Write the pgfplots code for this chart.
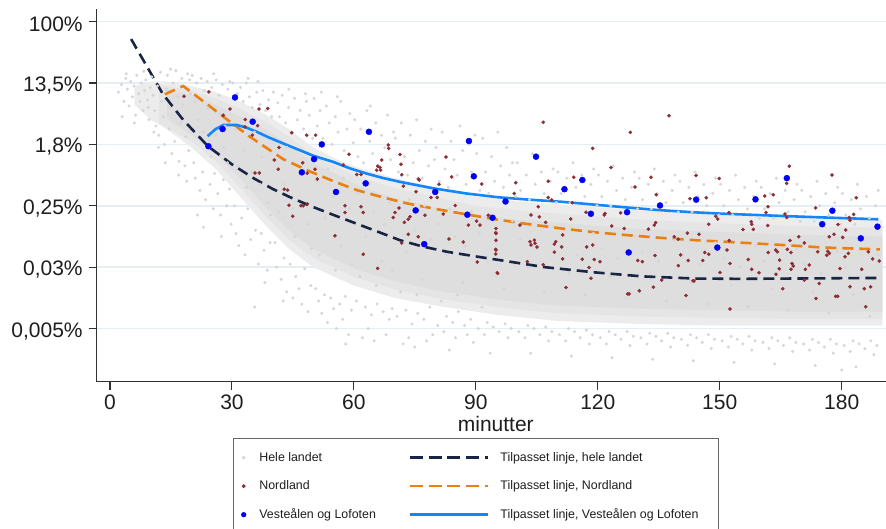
\documentclass[border=0pt]{standalone}
\usepackage{pgfplots}
\pgfplotsset{compat=1.18}
\usepackage{fontspec}
\setmainfont{Liberation Sans}
\definecolor{greydot}{RGB}{214,214,214}
\definecolor{corefill}{RGB}{236,236,236}
\definecolor{midfill}{RGB}{229,229,229}
\definecolor{innerfill}{RGB}{222,222,222}
\definecolor{nordred}{RGB}{140,45,55}
\definecolor{vblue}{RGB}{0,0,245}
\definecolor{navyline}{RGB}{26,36,68}
\definecolor{orangeline}{RGB}{234,128,16}
\definecolor{blueline}{RGB}{18,134,250}
\definecolor{gridc}{RGB}{229,238,242}
\definecolor{axisc}{RGB}{50,50,50}
\definecolor{tickc}{RGB}{30,30,30}
\pgfplotsset{
  markleg/.style={legend image code/.code={\path[draw=none,fill=none] (-5.25pt,-14.25pt) rectangle (15.7pt,14.25pt); \draw[##1] plot coordinates {(0pt,0pt)};}},
  lineleg/.style={legend image code/.code={\path[draw=none,fill=none] (-34.1pt,-14.25pt) rectangle (90.4pt,14.25pt); \draw[##1] (0pt,0pt) -- (78pt,0pt);}},
}
\begin{document}
\begin{tikzpicture}
\begin{axis}[
  at={(96.7pt,147.3pt)}, anchor=south west,
  scale only axis, width=789.3pt, height=372.7pt,
  xmin=-3.27, xmax=190.9, ymin=-11.73, ymax=0.41,
  axis x line*=bottom, axis y line*=left,
  axis line style={draw=axisc, line width=1.1pt},
  major tick style={draw=axisc, line width=1.1pt},
  tick align=outside, major tick length=8pt,
  xtick={0,30,60,90,120,150,180},
  ytick={-10,-8,-6,-4,-2,0},
  yticklabels={{0,005\%},{0,03\%},{0,25\%},{1,8\%},{13,5\%},{100\%}},
  /pgf/number format/assume math mode=true,
  xticklabel style={font=\fontsize{21}{21}\selectfont, text=tickc, yshift=-2pt},
  yticklabel style={font=\fontsize{21}{21}\selectfont, text=tickc, yshift=-2.5pt, xshift=-2.5pt},
  ymajorgrids, major grid style={line width=1.6pt, draw=gridc},
  xlabel={minutter},
  xlabel style={at={(axis description cs:0.5056,-0.1342)}, anchor=base, inner sep=0pt, font=\fontsize{21}{21}\selectfont, text=tickc},
  legend columns=2, legend cell align=left,
  legend style={at={(axis description cs:0.17307,-0.15187)}, anchor=north west,
    draw={rgb,255:red,100;green,100;blue,100}, line width=0.8pt, inner xsep=4.75pt, inner ysep=4.75pt,
    nodes={inner sep=0pt, font=\fontsize{12.4}{14}\selectfont, text=tickc},
    /tikz/column sep=0pt, /tikz/row sep=0pt},
]
% spread of the national cloud (outer, middle and dense core)
\addplot[fill=corefill, draw=none, forget plot] coordinates {
(6,-2.1)(10,-1.95)(14,-1.95)(20,-2.1)(26,-2.3)(32,-2.6)(38,-3.0)(44,-3.5)(50,-4.1)(56,-4.5)(62,-4.8)(70,-5.1)(80,-5.4)(90,-5.7)(100,-5.85)(115,-6.0)(130,-6.15)(150,-6.3)(170,-6.4)(190,-6.45)
(190,-9.9)(170,-9.9)(150,-9.9)(130,-9.85)(110,-9.75)(95,-9.55)(80,-9.25)(70,-9.0)(60,-8.6)(50,-8.0)(44,-7.4)(38,-6.6)(32,-5.7)(26,-4.8)(20,-4.1)(14,-3.5)(10,-3.2)(6,-2.7)
} -- cycle;
\addplot[fill=midfill, draw=none, forget plot] coordinates {
(12,-2.05)(20,-2.25)(26,-2.5)(32,-2.85)(38,-3.25)(44,-3.75)(50,-4.35)(56,-4.75)(62,-5.1)(70,-5.42)(80,-5.72)(90,-6.0)(100,-6.15)(115,-6.3)(130,-6.45)(150,-6.57)(170,-6.67)(190,-6.72)
(190,-9.68)(170,-9.68)(150,-9.65)(130,-9.6)(110,-9.5)(95,-9.3)(80,-9.0)(70,-8.72)(60,-8.32)(50,-7.7)(44,-7.1)(38,-6.3)(32,-5.4)(26,-4.55)(20,-3.9)(12,-3.3)
} -- cycle;
\addplot[fill=innerfill, draw=none, forget plot] coordinates {
(14,-2.2)(20,-2.4)(26,-2.7)(32,-3.1)(38,-3.5)(44,-4.0)(50,-4.6)(56,-5.0)(62,-5.4)(70,-5.75)(80,-6.05)(90,-6.3)(100,-6.45)(115,-6.6)(130,-6.75)(150,-6.85)(170,-6.95)(190,-7.0)
(190,-9.45)(170,-9.45)(150,-9.4)(130,-9.35)(110,-9.25)(95,-9.05)(80,-8.75)(70,-8.45)(60,-8.05)(50,-7.4)(44,-6.8)(38,-6.0)(32,-5.1)(26,-4.3)(20,-3.7)(14,-3.15)
} -- cycle;
% Hele landet
\addplot[only marks, mark=*, mark size=1.35pt, color=greydot, forget plot] coordinates {
(2.1,-2.3)(2.8,-2.05)(3.4,-2.6)(3.9,-1.85)(4.3,-2.2)(4.7,-2.75)(5.1,-1.95)(5.5,-2.45)(5.9,-2.1)(6.3,-3.05)(6.6,-1.75)(7.0,-2.35)(7.4,-2.6)(7.7,-2.0)(8.1,-2.9)(8.5,-2.25)(8.8,-1.9)(9.2,-2.55)(9.6,-3.2)(9.9,-2.15)(3.0,-3.1)(6.0,-3.3)(8.3,-1.62)(4.0,-1.7)(9.4,-2.8)
(10.3,-1.8)(10.6,-2.4)(11.0,-2.9)(11.3,-3.4)(11.7,-2.1)(12.0,-3.7)(12.4,-1.65)(12.7,-2.6)(13.1,-3.1)(13.4,-4.0)(13.8,-2.2)(14.1,-1.75)(14.5,-3.5)(14.8,-2.8)(15.2,-4.3)(15.5,-2.0)(15.9,-3.9)(16.2,-1.6)(16.6,-2.45)(17.0,-4.55)(17.3,-3.3)(17.7,-1.85)(18.0,-2.7)(18.4,-4.7)(18.7,-3.75)(19.1,-1.7)(19.4,-4.2)(19.8,-2.35)(11.9,-4.1)(16.9,-5.0)(13.6,-4.6)(18.9,-5.2)(10.8,-3.6)(14.9,-1.55)(19.6,-1.9)
(20.2,-1.75)(20.6,-4.6)(21.0,-5.1)(21.3,-2.0)(21.7,-3.2)(22.1,-5.5)(22.4,-1.85)(22.8,-4.9)(23.2,-2.25)(23.5,-5.8)(23.9,-1.95)(24.3,-3.9)(24.6,-5.3)(25.0,-2.15)(25.4,-6.1)(25.7,-4.95)(26.1,-1.9)(26.5,-5.6)(26.8,-2.4)(27.2,-6.3)(27.6,-2.05)(27.9,-5.15)(28.3,-3.4)(28.7,-6.0)(29.0,-2.2)(29.4,-5.45)(29.8,-6.6)(20.9,-2.6)(22.9,-3.6)(24.9,-4.4)(26.9,-3.0)(28.9,-4.6)(21.5,-6.3)(25.5,-1.7)(27.4,-7.0)(23.0,-6.7)(29.5,-1.95)(24.0,-2.8)(26.0,-3.7)(28.0,-4.1)
(30.2,-2.0)(30.6,-6.0)(31.0,-6.9)(31.3,-2.35)(31.7,-7.3)(32.1,-2.15)(32.4,-6.4)(32.8,-2.6)(33.2,-7.6)(33.5,-2.0)(33.9,-6.1)(34.3,-2.45)(34.6,-7.1)(35.0,-2.8)(35.6,-9.3)(35.8,-6.8)(36.1,-2.3)(36.5,-7.9)(36.9,-2.7)(37.2,-6.9)(37.6,-2.25)(37.9,-7.45)(38.3,-2.9)(38.7,-8.1)(39.0,-2.55)(39.4,-7.2)(39.8,-3.1)(30.9,-3.5)(32.9,-4.2)(34.9,-4.9)(36.9,-5.3)(38.9,-5.9)(31.5,-4.7)(33.6,-5.4)(35.5,-3.6)(37.4,-4.4)(39.5,-6.3)(34.0,-1.85)(36.4,-1.95)(38.1,-8.5)
(40.2,-2.3)(40.6,-7.2)(41.0,-8.0)(41.3,-2.65)(41.7,-3.1)(42.1,-8.4)(42.4,-2.4)(42.8,-7.7)(43.2,-3.3)(43.5,-8.8)(43.9,-2.8)(44.3,-7.9)(44.6,-3.6)(45.0,-9.0)(45.4,-2.5)(45.7,-8.3)(46.1,-3.2)(46.5,-8.7)(46.8,-2.9)(47.2,-9.2)(47.6,-3.5)(47.9,-8.05)(48.3,-2.6)(48.7,-9.45)(49.0,-3.05)(49.4,-8.6)(49.8,-3.8)(40.9,-4.5)(42.9,-5.3)(44.9,-6.1)(46.9,-5.0)(48.9,-6.6)(41.5,-6.2)(43.6,-4.1)(45.5,-7.0)(47.4,-4.6)(49.5,-7.4)(44.0,-2.2)(48.1,-2.35)(42.6,-9.1)
(50.2,-2.5)(50.6,-8.7)(51.0,-3.4)(51.3,-9.1)(51.7,-2.9)(52.1,-9.5)(52.4,-3.8)(52.8,-8.9)(53.2,-2.75)(53.5,-9.8)(53.9,-3.3)(54.3,-9.0)(54.6,-4.0)(55.0,-9.35)(55.4,-3.1)(55.7,-10.0)(56.1,-3.6)(56.5,-9.2)(56.8,-2.6)(57.2,-9.7)(57.6,-4.2)(57.9,-8.95)(58.3,-3.5)(58.7,-10.2)(59.0,-3.0)(59.4,-9.4)(59.8,-3.95)(50.9,-5.2)(52.9,-6.4)(54.9,-5.7)(56.9,-7.3)(58.9,-6.1)(51.5,-7.6)(53.6,-4.8)(55.5,-8.1)(57.4,-5.1)(59.5,-7.9)(52.0,-2.3)(55.9,-2.45)(58.0,-10.5)
(60.2,-3.2)(60.6,-9.1)(61.0,-4.4)(61.7,-3.5)(62.1,-10.3)(62.4,-4.6)(62.8,-9.3)(63.2,-2.9)(63.5,-10.0)(63.9,-3.9)(64.3,-9.55)(64.6,-4.3)(65.0,-10.4)(65.4,-3.3)(65.7,-9.2)(66.1,-4.7)(66.8,-3.7)(67.2,-9.45)(67.6,-4.1)(67.9,-10.2)(68.3,-3.05)(68.7,-9.7)(69.0,-4.5)(69.4,-9.35)(69.8,-3.6)(60.9,-5.6)(62.9,-7.0)(64.9,-6.2)(66.9,-7.8)(68.9,-5.9)(61.5,-8.3)(63.6,-5.3)(65.5,-8.6)(67.4,-6.6)(69.5,-8.1)(64.0,-2.75)
(70.2,-3.8)(70.6,-9.6)(71.0,-4.9)(71.7,-3.3)(72.1,-10.5)(72.4,-4.4)(72.8,-9.4)(73.2,-5.0)(73.5,-10.3)(73.9,-3.7)(74.3,-9.85)(74.6,-4.6)(75.0,-10.6)(75.4,-3.2)(75.7,-9.5)(76.1,-4.2)(76.8,-5.1)(77.2,-9.7)(77.6,-3.9)(77.9,-10.4)(78.3,-4.7)(78.7,-9.3)(79.0,-3.5)(79.4,-10.2)(79.8,-4.5)(70.9,-6.3)(72.9,-7.5)(74.9,-6.8)(76.9,-8.4)(78.9,-7.1)(71.5,-8.8)(73.6,-5.8)(75.5,-8.9)(77.4,-6.0)
(80.2,-4.1)(80.6,-9.9)(81.0,-5.2)(81.7,-3.6)(82.1,-10.1)(82.4,-4.8)(82.8,-9.6)(83.2,-5.4)(83.5,-10.7)(83.9,-3.9)(84.3,-9.8)(84.6,-4.5)(85.0,-10.3)(85.4,-5.0)(85.7,-9.45)(86.1,-3.4)(86.8,-4.2)(87.2,-9.9)(87.6,-5.3)(87.9,-10.2)(88.3,-4.0)(88.7,-9.7)(89.0,-4.9)(89.4,-10.45)(89.8,-3.7)(80.9,-6.6)(82.9,-7.6)(84.9,-7.0)(86.9,-8.5)(88.9,-6.2)(81.5,-9.1)(83.6,-6.1)(85.5,-8.9)(87.4,-7.3)
(90.2,-4.3)(90.6,-10.0)(91.0,-5.5)(91.7,-3.8)(92.1,-10.2)(92.4,-4.9)(92.8,-9.8)(93.2,-5.6)(93.5,-10.8)(93.9,-4.4)(94.3,-9.95)(94.6,-5.2)(95.4,-3.6)(95.7,-10.1)(96.1,-4.7)(96.8,-5.4)(97.2,-9.85)(97.6,-4.1)(97.9,-10.3)(98.3,-5.0)(98.7,-10.0)(99.0,-4.6)(99.8,-5.7)(90.9,-6.9)(92.9,-7.8)(94.9,-7.2)(96.9,-8.7)(98.9,-6.5)(91.5,-9.3)(93.6,-6.3)
(100.2,-4.6)(100.6,-10.1)(101.0,-5.5)(102.1,-10.3)(102.4,-5.0)(102.8,-9.9)(103.2,-5.8)(103.5,-10.8)(103.9,-4.3)(104.3,-10.0)(104.6,-5.3)(105.7,-10.2)(106.1,-4.9)(106.8,-5.6)(107.2,-9.95)(107.9,-10.4)(108.3,-5.2)(108.7,-10.1)(109.0,-4.8)(109.8,-5.9)(100.9,-7.1)(102.9,-8.0)(104.9,-7.4)(106.9,-8.8)(108.9,-6.7)
(110.2,-4.9)(110.6,-10.2)(111.0,-5.6)(112.1,-10.4)(112.4,-5.1)(112.8,-10.0)(113.2,-5.9)(113.5,-10.9)(113.9,-4.6)(114.3,-10.1)(114.6,-5.4)(115.7,-10.3)(116.1,-5.0)(116.8,-5.7)(117.2,-10.05)(117.9,-10.5)(118.3,-5.3)(118.7,-10.2)(119.0,-4.8)(119.8,-6.0)(110.9,-7.3)(112.9,-8.2)(114.9,-7.6)(116.9,-8.9)(118.9,-6.9)
(120.2,-5.0)(120.6,-10.3)(121.0,-5.7)(122.1,-10.5)(122.4,-5.2)(122.8,-10.1)(123.2,-6.0)(123.5,-10.95)(123.9,-4.7)(124.3,-10.2)(124.6,-5.5)(125.7,-10.35)(126.1,-5.1)(126.8,-5.8)(127.2,-10.1)(127.9,-10.55)(128.3,-5.4)(128.7,-10.25)(129.0,-4.9)(129.8,-6.1)(120.9,-7.4)(122.9,-8.3)(124.9,-7.7)(126.9,-9.0)(128.9,-7.0)
(130.2,-5.1)(130.6,-10.3)(131.0,-5.8)(132.1,-10.5)(132.4,-5.3)(132.8,-10.15)(133.2,-6.1)(133.5,-11.0)(133.9,-4.8)(134.3,-10.25)(134.6,-5.6)(135.7,-10.4)(136.1,-5.2)(136.8,-5.9)(137.2,-10.15)(137.9,-10.6)(138.3,-5.5)(138.7,-10.3)(139.0,-5.0)(139.8,-6.2)(130.9,-7.5)(132.9,-8.4)(134.9,-7.8)(136.9,-9.1)(138.9,-7.1)
(140.2,-5.2)(140.6,-10.35)(141.0,-5.9)(142.1,-10.55)(142.4,-5.4)(142.8,-10.2)(143.2,-6.2)(143.5,-11.05)(143.9,-4.9)(144.3,-10.3)(144.6,-5.7)(145.7,-10.45)(146.1,-5.3)(146.8,-6.0)(147.2,-10.2)(147.9,-10.65)(148.3,-5.6)(148.7,-10.35)(149.0,-5.1)(149.8,-6.3)(140.9,-7.6)(142.9,-8.5)(144.9,-7.9)(146.9,-9.2)(148.9,-7.2)
(150.2,-5.3)(150.6,-10.4)(151.0,-6.0)(152.1,-10.6)(152.4,-5.5)(152.8,-10.25)(153.2,-6.3)(153.5,-11.1)(153.9,-5.0)(154.3,-10.35)(154.6,-5.8)(155.7,-10.5)(156.1,-5.4)(156.8,-6.1)(157.2,-10.25)(157.9,-10.7)(158.3,-5.7)(158.7,-10.4)(159.0,-5.2)(159.8,-6.4)(150.9,-7.7)(152.9,-8.6)(154.9,-8.0)(156.9,-9.3)(158.9,-7.3)
(160.2,-5.4)(160.6,-10.45)(161.0,-6.1)(162.1,-10.65)(162.4,-5.6)(162.8,-10.3)(163.2,-6.4)(163.5,-11.15)(163.9,-5.1)(164.3,-10.4)(164.6,-5.9)(165.7,-10.55)(166.1,-5.5)(166.8,-6.2)(167.2,-10.3)(167.9,-10.75)(168.3,-5.8)(168.7,-10.45)(169.0,-5.3)(169.8,-6.5)(160.9,-7.8)(162.9,-8.7)(164.9,-8.1)(166.9,-9.4)(168.9,-7.4)
(170.2,-5.5)(170.6,-10.5)(171.0,-6.2)(172.1,-10.7)(172.4,-5.7)(172.8,-10.35)(173.2,-6.5)(173.5,-11.2)(173.9,-5.2)(174.3,-10.45)(174.6,-6.0)(175.7,-10.6)(176.1,-5.6)(176.8,-6.3)(177.2,-10.35)(177.9,-10.8)(178.3,-5.9)(178.7,-10.5)(179.0,-5.4)(179.8,-6.6)(170.9,-7.9)(172.9,-8.8)(174.9,-8.2)(176.9,-9.5)(178.9,-7.5)
(180.0,-11.35)(180.2,-5.6)(180.6,-10.55)(181.0,-6.3)(182.1,-10.75)(182.4,-5.8)(182.8,-10.4)(183.2,-6.6)(183.5,-11.25)(183.9,-5.3)(184.3,-10.5)(184.6,-6.1)(185.7,-10.65)(186.1,-5.7)(186.8,-6.4)(187.2,-10.4)(187.9,-10.85)(188.3,-6.0)(188.7,-10.55)(189.0,-5.5)(180.9,-8.0)(182.9,-8.9)(184.9,-8.3)(186.9,-9.6)(188.9,-7.6)
};
% Nordland
\addplot[only marks, mark=*, mark size=1.6pt, color=nordred, forget plot] coordinates {
(24.35,-2.29)(18.20,-2.43)(29.52,-2.85)(36.65,-2.85)(38.79,-2.83)(27.87,-3.05)(33.28,-3.19)(36.33,-3.39)(33.21,-3.43)(35.01,-3.70)
(44.70,-3.62)(48.39,-3.70)(41.57,-4.10)(40.42,-4.51)(41.40,-4.81)(47.40,-4.60)(35.67,-4.93)(36.73,-4.93)(42.88,-5.46)(43.71,-5.49)
(44.03,-5.98)(46.99,-6.00)(44.94,-6.34)(50.60,-3.70)(48.54,-4.94)(50.43,-4.81)(51.00,-5.13)(57.39,-4.67)(58.79,-4.32)(60.69,-4.98)
(61.75,-4.98)(68.46,-4.02)(68.56,-4.13)(66.84,-4.51)(65.85,-4.71)(66.42,-4.75)(65.61,-4.84)(66.59,-4.84)(71.34,-4.33)(71.59,-4.65)
(71.76,-4.99)(72.15,-5.36)(75.84,-5.13)(76.09,-5.16)(75.28,-5.54)(82.66,-4.41)(84.06,-5.06)(91.44,-5.29)(78.97,-5.73)(80.52,-5.73)
(57.81,-6.00)(61.75,-6.03)(62.31,-6.22)(57.81,-6.22)(55.35,-6.98)(62.31,-7.58)(65.85,-8.04)(71.09,-6.07)(70.11,-6.22)(69.69,-6.38)
(73.80,-6.36)(73.38,-6.44)(72.40,-6.54)(77.49,-6.31)(81.99,-6.27)(84.95,-5.99)(73.38,-6.93)(75.84,-7.01)(83.39,-7.08)(71.76,-7.21)
(86.91,-7.18)(88.14,-6.63)(90.21,-6.50)(91.02,-6.63)(93.06,-6.31)(94.96,-6.74)(94.96,-6.90)(94.96,-7.12)(94.96,-7.44)(90.36,-7.83)
(95.28,-8.18)(48.54,-5.94)(47.55,-6.00)(106.59,-3.28)(137.52,-3.07)(128.00,-3.61)(118.75,-4.13)(123.25,-4.75)(114.07,-5.07)(133.09,-5.07)
(107.82,-5.20)(99.80,-5.25)(129.15,-5.39)(134.39,-5.64)(142.68,-5.77)(99.46,-5.60)(107.82,-5.73)(105.36,-6.03)(113.73,-5.90)(108.66,-5.81)
(103.57,-6.30)(105.61,-6.36)(113.33,-6.43)(117.10,-6.21)(121.60,-6.30)(121.77,-6.25)(125.63,-6.23)(134.24,-6.55)(133.89,-6.63)(107.18,-6.54)
(100.86,-6.63)(123.42,-6.66)(126.52,-6.74)(132.42,-6.76)(142.02,-6.89)(94.88,-6.88)(111.36,-6.95)(138.82,-7.01)(139.80,-7.09)(103.32,-7.17)
(104.38,-7.12)(104.55,-7.22)(103.57,-7.28)(109.64,-7.17)(105.04,-7.34)(109.30,-7.25)(117.27,-7.34)(118.75,-7.28)(109.30,-7.51)(111.12,-7.34)
(94.88,-7.42)(94.88,-7.57)(116.19,-7.74)(119.14,-7.75)(120.54,-7.82)(111.36,-7.73)(102.66,-7.82)(129.82,-7.78)(130.95,-7.82)(134.07,-7.62)
(140.39,-7.60)(139.80,-7.95)(142.26,-7.78)(106.59,-7.92)(95.37,-8.20)(117.83,-8.01)(118.33,-8.36)(135.72,-8.42)(143.42,-8.44)(112.18,-8.66)
(133.65,-8.65)(130.21,-8.77)(127.36,-8.87)(127.68,-8.87)(141.70,-8.92)(167.11,-4.71)(144.16,-5.01)(149.89,-5.11)(177.61,-5.00)(166.47,-5.27)
(146.69,-5.74)(161.06,-5.68)(163.17,-5.64)(183.59,-5.74)(161.87,-6.03)(173.60,-6.07)(161.38,-6.22)(152.28,-6.22)(166.05,-6.27)(166.47,-6.38)
(149.00,-6.34)(149.50,-6.43)(182.95,-6.28)(181.87,-6.38)(182.04,-6.47)(157.76,-6.52)(157.86,-6.60)(158.26,-6.77)(147.28,-6.60)(161.80,-6.64)
(155.72,-6.77)(179.09,-6.61)(180.98,-6.79)(144.90,-6.93)(178.11,-6.93)(176.95,-7.01)(169.42,-7.01)(180.25,-7.03)(152.35,-7.13)(167.28,-7.13)
(170.80,-7.21)(151.78,-7.44)(146.30,-7.52)(147.28,-7.58)(174.10,-7.50)(161.94,-7.52)(163.76,-7.44)(164.16,-7.50)(166.62,-7.42)(167.53,-7.52)
(176.56,-7.48)(176.95,-7.55)(176.31,-7.61)(181.62,-7.55)(180.81,-7.66)(186.54,-7.50)(187.63,-7.73)(189.25,-7.80)(145.81,-7.78)(164.75,-7.77)
(152.52,-7.88)(157.02,-7.75)(167.77,-7.88)(168.09,-7.96)(167.53,-8.07)(172.03,-7.93)(179.58,-8.04)(184.92,-8.07)(157.86,-8.07)(159.66,-8.18)
(164.65,-8.05)(163.84,-8.23)(171.05,-8.07)(170.80,-8.42)(150.06,-8.17)(143.67,-8.45)(174.49,-8.53)(185.56,-8.70)(187.13,-8.64)(182.04,-8.64)
(165.49,-8.70)(173.68,-9.02)(178.52,-8.95)(179.02,-8.95)(185.90,-9.29)(152.52,-9.36)(80.94,-5.30)
};
% Tilpasset linje, hele landet
\addplot[navyline, line width=2.6pt, dash pattern=on 11pt off 6pt, forget plot] coordinates {
(5.2,-0.57)(13.0,-2.36)(18.0,-3.2)(24.1,-4.06)(30,-4.65)(35.3,-5.1)(40,-5.45)(44.3,-5.72)(49.2,-6.0)(55,-6.3)(60,-6.55)(66,-6.85)(71.3,-7.12)(77,-7.33)(83,-7.5)(90,-7.65)(95.9,-7.77)(107,-8.0)(119.3,-8.17)(131,-8.3)(143.9,-8.37)(155,-8.38)(167.3,-8.37)(189.4,-8.35)
};
% Tilpasset linje, Nordland
\addplot[orangeline, line width=2.6pt, dash pattern=on 11pt off 6pt, forget plot] coordinates {
(13.5,-2.37)(18.0,-2.1)(22,-2.5)(27.9,-3.1)(34.4,-3.75)(42.6,-4.48)(48.8,-4.86)(55,-5.2)(60.7,-5.49)(67,-5.72)(73,-5.92)(80,-6.1)(87.7,-6.28)(95.3,-6.45)(103,-6.6)(111.1,-6.74)(119,-6.86)(127.5,-6.96)(135,-7.04)(143.9,-7.12)(151,-7.17)(159.1,-7.23)(167,-7.29)(175.5,-7.36)(189.4,-7.42)
};
% Tilpasset linje, Vesteaalen og Lofoten
\addplot[blueline, line width=2.6pt, forget plot] coordinates {
(24.0,-3.73)(26,-3.5)(27.9,-3.37)(31.2,-3.37)(33.5,-3.45)(36.1,-3.59)(39,-3.77)(42.6,-3.97)(46.7,-4.19)(50,-4.37)(54.9,-4.57)(59,-4.78)(63.1,-4.95)(67,-5.09)(71.3,-5.22)(79.5,-5.43)(87.7,-5.6)(95.3,-5.72)(103,-5.8)(111.1,-5.87)(119,-5.96)(127.5,-6.06)(135,-6.14)(143.3,-6.21)(151,-6.26)(159.1,-6.3)(167,-6.34)(175.5,-6.38)(189,-6.44)
};
% Vesteaalen og Lofoten
\addplot[only marks, mark=*, mark size=3pt, color=vblue, forget plot] coordinates {
(30.75,-2.47)(35.10,-3.26)(27.70,-3.50)(24.20,-4.06)(47.20,-4.91)(52.10,-4.00)(50.20,-4.48)(63.70,-3.59)(55.60,-5.55)(62.90,-5.27)
(88.30,-3.89)(89.50,-5.04)(80.00,-5.55)(75.20,-6.15)(87.90,-6.29)(94.10,-6.39)(77.30,-7.25)(104.80,-4.40)(116.20,-5.16)(111.80,-5.46)
(97.30,-5.86)(118.30,-6.26)(127.20,-6.21)(135.30,-5.99)(127.60,-7.52)(144.20,-5.80)(149.40,-7.36)(158.80,-5.79)(166.50,-5.10)(175.20,-6.60)
(177.70,-6.16)(184.70,-7.06)(188.80,-6.68)
};
% legend
\addlegendimage{markleg, only marks, mark=*, mark size=1.4pt, color=greydot}
\addlegendentry{Hele landet}
\addlegendimage{lineleg, navyline, line width=2.6pt, dash pattern=on 13pt off 5.7pt}
\addlegendentry{Tilpasset linje, hele landet}
\addlegendimage{markleg, only marks, mark=*, mark size=1.5pt, color=nordred}
\addlegendentry{Nordland}
\addlegendimage{lineleg, orangeline, line width=2.6pt, dash pattern=on 13pt off 5.7pt}
\addlegendentry{Tilpasset linje, Nordland}
\addlegendimage{markleg, only marks, mark=*, mark size=2.2pt, color=vblue}
\addlegendentry{Vesteålen og Lofoten}
\addlegendimage{lineleg, blueline, line width=2.6pt}
\addlegendentry{Tilpasset linje, Vesteålen og Lofoten\rule{15pt}{0pt}}
\end{axis}
\pgfresetboundingbox
\useasboundingbox (0pt,0pt) rectangle (886pt,529pt);
\end{tikzpicture}
\end{document}
